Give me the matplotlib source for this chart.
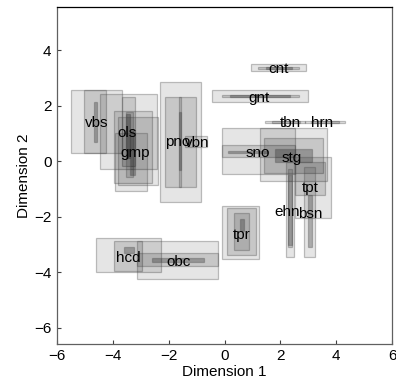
import matplotlib
matplotlib.use("Agg")
import matplotlib.pyplot as plt
from matplotlib.patches import Rectangle

plt.rcParams['font.family'] = ['Liberation Sans', 'DejaVu Sans']

# Object labels and label positions (Dimension 1, Dimension 2)
names = ["vbs", "ols", "gmp", "pno", "vbn", "cnt", "gnt", "tbn", "hrn",
         "sno", "stg", "tpt", "ehn", "bsn", "tpr", "hcd", "obc"]
label_x = [-4.58, -3.51, -3.21, -1.67, -0.99, 1.93, 1.24, 2.35, 3.51,
           1.19, 2.41, 3.06, 2.23, 3.06, 0.62, -3.45, -1.66]
label_y = [1.37, 1.00, 0.31, 0.69, 0.65, 3.32, 2.26, 1.36, 1.36,
           0.28, 0.10, -0.98, -1.82, -1.91, -2.66, -3.49, -3.62]

# Interval rectangles: owner, x-min, x-max, y-min, y-max, nesting level
rect_owner = ["vbs", "vbs", "vbs",
              "ols", "ols", "ols",
              "gmp", "gmp", "gmp", "gmp", "gmp",
              "pno", "pno", "pno", "pno",
              "vbn",
              "cnt", "cnt", "cnt",
              "gnt", "gnt", "gnt",
              "tbn", "tbn", "hrn", "hrn",
              "sno", "sno", "sno",
              "stg", "stg", "stg",
              "tpt", "tpt",
              "ehn", "ehn", "ehn",
              "bsn", "bsn",
              "tpr", "tpr", "tpr", "tpr",
              "hcd", "hcd", "hcd",
              "obc", "obc", "obc"]
rect_x0 = [-5.51, -5.03, -4.67,
           -4.46, -3.66, -3.53,
           -3.95, -3.81, -3.92, -3.53, -3.39,
           -2.31, -2.12, -1.64, -1.64,
           -1.42,
           0.95, 1.21, 1.50,
           -0.46, -0.10, 0.20,
           1.45, 1.70, 2.89, 3.10,
           -0.10, -0.10, 0.14,
           1.27, 1.43, 1.79,
           2.53, 2.53,
           2.20, 2.29, 2.29,
           2.83, 3.00,
           -0.08, 0.08, 0.34, 0.55,
           -4.61, -3.95, -3.60,
           -3.13, -3.13, -2.59]
rect_x1 = [-3.68, -4.26, -4.56,
           -2.43, -3.21, -3.39,
           -2.59, -2.39, -2.79, -3.27, -3.21,
           -0.85, -1.03, -1.57, -1.57,
           -0.64,
           2.91, 2.65, 2.40,
           3.00, 2.65, 2.35,
           2.89, 2.70, 4.32, 4.10,
           2.53, 2.53, 1.57,
           3.66, 3.51, 3.15,
           3.82, 3.60,
           2.49, 2.41, 2.41,
           3.24, 3.13,
           1.25, 1.12, 0.88, 0.70,
           -2.29, -2.95, -3.25,
           -0.22, -0.22, -0.73]
rect_y0 = [0.31, 0.31, 0.70,
           -0.29, -0.17, 0.10,
           -0.77, -0.86, -1.06, -0.56, -0.50,
           -1.46, -0.92, -0.92, -0.32,
           0.52,
           3.24, 3.33, 3.33,
           2.13, 2.31, 2.31,
           1.36, 1.38, 1.36, 1.38,
           -0.46, 0.14, 0.30,
           -0.72, -0.44, -0.03,
           -2.04, -1.22,
           -3.44, -3.10, -3.02,
           -3.44, -3.08,
           -3.52, -3.38, -3.20, -2.50,
           -4.00, -3.95, -3.30,
           -4.25, -3.76, -3.62]
rect_y1 = [2.56, 2.56, 2.13,
           2.43, 2.31, 1.71,
           1.82, 1.58, 1.00, 1.78, 1.12,
           2.84, 2.32, 2.32, 1.78,
           0.91,
           3.48, 3.39, 3.39,
           2.55, 2.39, 2.39,
           1.46, 1.44, 1.46, 1.44,
           1.20, 0.58, 0.37,
           1.20, 0.84, 0.42,
           0.16, -0.02,
           -0.02, -0.30, -0.50,
           -0.20, -1.22,
           -1.60, -1.70, -1.88, -2.10,
           -2.78, -2.87, -3.10,
           -2.87, -3.31, -3.49]
rect_level = [0, 1, 2,
              0, 1, 2,
              0, 0, 0, 1, 2,
              0, 1, 1, 2,
              0,
              0, 1, 2,
              0, 1, 2,
              0, 1, 0, 1,
              0, 1, 2,
              0, 1, 2,
              0, 1,
              0, 1, 2,
              0, 2,
              0, 1, 1, 2,
              0, 1, 2,
              0, 1, 2]

level_alpha = [0.10, 0.13, 0.25]

fig = plt.figure(figsize=(3.96, 3.89), dpi=100)
ax = fig.add_axes([0.144, 0.116, 0.846, 0.866])

for x0, x1, y0, y1, lv in zip(rect_x0, rect_x1, rect_y0, rect_y1, rect_level):
    ax.add_patch(Rectangle((x0, y0), x1 - x0, y1 - y0,
                           facecolor=(0, 0, 0, level_alpha[lv]),
                           edgecolor=(0.3, 0.3, 0.3, 0.35), linewidth=0.9))

for n, x, y in zip(names, label_x, label_y):
    ax.text(x, y, n, ha='center', va='center', fontsize=11, color='black')

ax.set_xlim(-6, 6)
ax.set_ylim(-6.58, 5.55)
ax.set_xticks([-6, -4, -2, 0, 2, 4, 6])
ax.set_yticks([-6, -4, -2, 0, 2, 4])
ax.tick_params(direction='in', length=3, width=0.8, color='#404040',
               labelsize=11, top=False, right=False, pad=4)
for s in ax.spines.values():
    s.set_color('#606060')
    s.set_linewidth(0.9)
ax.spines['top'].set_color('black')
ax.set_xlabel("Dimension 1", fontsize=11, labelpad=1)
ax.set_ylabel("Dimension 2", fontsize=11, labelpad=2)

fig.savefig("out.png", dpi=100)
